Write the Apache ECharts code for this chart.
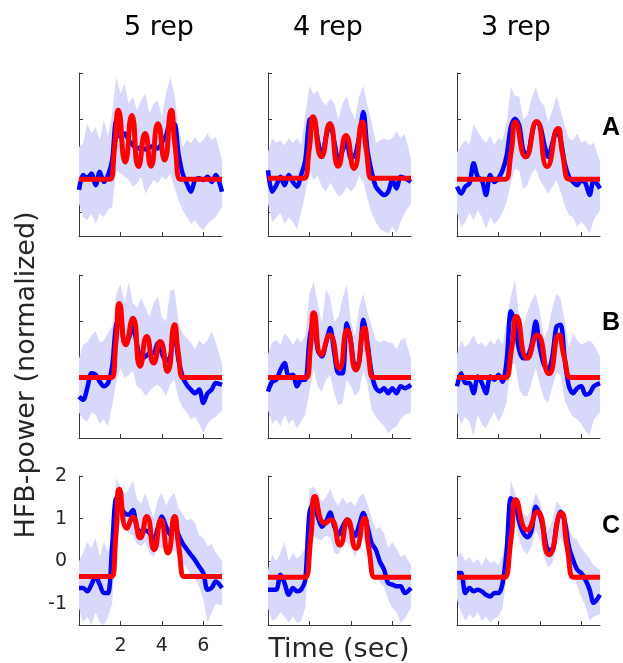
<!DOCTYPE html>
<html><head><meta charset="utf-8">
<script src="https://cdn.jsdelivr.net/npm/echarts@6/dist/echarts.min.js"></script>
<style>html,body{margin:0;padding:0;background:#fff}#c{width:623px;height:663px}</style>
</head><body><div id="c"></div>
<script>
// ---- data (time grid in seconds, values in normalized HFB power) ----
const T = [0,0.2,0.4,0.6,0.8,1,1.2,1.4,1.6,1.8,2,2.2,2.4,2.6,2.8,3,3.2,3.4,3.6,3.8,4,4.2,4.4,4.6,4.8,5,5.2,5.4,5.6,5.8,6,6.2,6.4,6.6,6.9];
const colTitles = ['5 rep','4 rep','3 rep'];
const rowLabels = ['A','B','C'];
const xTicks = [2,4,6];
const yTicks = [-1,0,1,2];

// Row A
const blueA5 = [-0.51,-0.19,-0.26,-0.16,-0.41,-0.12,-0.34,-0.19,0.13,0.99,0.63,0.7,0.56,0.45,0.38,0.4,0.36,0.4,0.43,0.38,0.5,0.66,0.91,0.91,0.27,-0.16,-0.37,-0.55,-0.3,-0.26,-0.3,-0.23,-0.34,-0.19,-0.55];
const upA5 = [0.41,0.49,0.91,0.7,0.84,0.56,0.99,0.63,1.13,1.91,1.56,1.77,1.34,1.49,1.2,1.41,1.56,1.13,1.34,1.41,1.06,1.56,1.91,1.56,0.84,0.41,0.56,0.49,0.63,0.49,0.56,0.7,0.56,0.63,0.13];
const loA5 = [-0.8,-1.09,-1.16,-1.01,-1.24,-1.01,-1.09,-0.94,-0.87,-0.09,-0.16,-0.23,-0.3,-0.44,-0.37,-0.23,-0.59,-0.44,-0.3,-0.37,-0.23,-0.3,-0.16,-0.44,-0.73,-0.94,-1.09,-1.24,-1.16,-1.3,-1.37,-1.24,-1.16,-1.09,-0.87];
const redA5 = [[0,-0.28],[1.4,-0.28],[1.5,-0.28],[1.73,0.46],[1.9,1.2],[2.23,0.09],[2.55,1.09],[2.87,-0.01],[3.19,0.7],[3.47,0.0],[3.81,0.91],[4.13,0.13],[4.45,1.2],[4.63,0.46],[4.89,-0.28],[4.99,-0.28],[6.9,-0.28]];

const blueA4 = [-0.09,-0.55,-0.41,-0.23,-0.41,-0.19,-0.34,-0.44,-0.19,0.13,0.99,1.02,0.56,0.2,0.63,0.91,0.52,0.13,0.34,0.52,0.16,0.24,0.63,1.16,0.34,-0.12,-0.44,-0.55,-0.62,-0.55,-0.3,-0.48,-0.23,-0.26,-0.34];
const upA4 = [0.3,0.6,0.5,0.55,0.45,0.6,0.5,0.6,0.45,1.1,1.72,1.55,1.62,1.4,1.3,1.45,1.35,1.0,1.35,1.5,1.2,1.0,1.5,1.72,1.3,0.95,0.5,0.55,0.6,0.55,0.6,0.75,0.6,0.7,0.15];
const loA4 = [-0.8,-1.2,-1.1,-1.0,-1.25,-1.1,-1.2,-1.35,-1.0,-0.6,-0.1,-0.3,-0.2,-0.45,-0.55,-0.35,-0.5,-0.65,-0.6,-0.45,-0.55,-0.45,-0.2,-0.35,-0.7,-1.0,-1.2,-1.35,-1.4,-1.45,-1.3,-1.45,-1.2,-1.0,-0.8];
const redA4 = [[0,-0.26],[1.65,-0.26],[1.75,-0.26],[2.0,0.4],[2.18,1.06],[2.58,0.2],[2.98,0.91],[3.39,0.0],[3.76,0.66],[4.15,-0.05],[4.55,0.95],[4.74,0.35],[5.0,-0.26],[5.1,-0.26],[6.9,-0.26]];

const blueA3 = [-0.44,-0.59,-0.44,-0.37,0.06,-0.23,-0.3,-0.62,-0.19,-0.34,-0.26,-0.09,0.24,0.84,1.02,0.88,0.34,0.24,0.66,0.95,0.88,0.49,0.2,0.49,0.77,0.56,0.06,-0.23,-0.34,-0.41,-0.3,-0.37,-0.62,-0.3,-0.48];
const upA3 = [0.3,0.45,0.55,0.45,0.9,0.75,0.6,0.5,0.65,0.45,0.6,0.55,0.95,1.7,1.5,1.5,1.0,1.1,1.45,1.7,1.4,1.3,0.95,1.2,1.5,1.2,0.85,0.6,0.55,0.7,0.5,0.55,0.45,0.5,0.1];
const loA3 = [-1.0,-1.3,-1.2,-1.0,-1.15,-0.95,-1.1,-1.35,-1.1,-1.25,-1.15,-1.0,-0.75,-0.35,-0.05,-0.1,-0.5,-0.4,-0.15,-0.05,-0.3,-0.45,-0.6,-0.45,-0.3,-0.55,-0.85,-1.05,-1.1,-1.3,-1.2,-1.3,-1.45,-1.15,-0.95];
const redA3 = [[0,-0.28],[2.24,-0.28],[2.34,-0.28],[2.62,0.33],[2.82,0.95],[3.31,0.2],[3.84,0.96],[4.35,-0.01],[4.87,0.81],[5.09,0.27],[5.4,-0.28],[5.5,-0.28],[6.9,-0.28]];

// Row B
const blueB5 = [-0.61,-0.68,-0.43,-0.11,-0.14,-0.29,-0.39,-0.32,0.04,0.95,1.05,0.54,0.64,0.89,0.5,0.21,0.25,0.32,0.32,0.54,0.32,0.14,0.25,0.79,0.18,-0.18,-0.36,-0.46,-0.54,-0.46,-0.75,-0.54,-0.46,-0.32,-0.36];
const upB5 = [0.2,0.5,0.55,0.7,0.8,0.55,0.6,0.75,0.9,1.6,1.8,1.4,1.85,1.4,1.3,1.5,1.3,1.1,1.4,1.55,1.1,1.0,1.65,1.7,1.0,0.75,0.65,0.55,0.4,0.6,0.5,0.6,0.8,0.55,0.1];
const loB5 = [-0.95,-1.1,-1.15,-0.95,-1.0,-1.2,-1.1,-1.25,-0.8,-0.3,0.0,-0.2,-0.15,-0.05,-0.4,-0.45,-0.6,-0.5,-0.4,-0.35,-0.45,-0.6,-0.35,-0.25,-0.65,-0.85,-0.95,-1.1,-1.05,-1.2,-1.4,-1.2,-1.1,-1.05,-0.9];
const redB5 = [[0,-0.2],[1.48,-0.2],[1.58,-0.2],[1.79,0.6],[1.95,1.39],[2.26,0.5],[2.6,1.07],[2.95,0.04],[3.27,0.68],[3.6,0.11],[3.92,0.57],[4.27,-0.07],[4.61,0.93],[4.78,0.37],[5.02,-0.2],[5.12,-0.2],[6.9,-0.2]];

const blueB4 = [-0.5,-0.29,-0.25,-0.04,0.11,-0.18,-0.14,-0.39,-0.25,-0.25,0.61,1.07,0.39,0.25,0.54,0.86,0.32,-0.11,-0.11,0.96,0.57,0.04,0.14,1.04,0.54,-0.11,-0.43,-0.5,-0.43,-0.54,-0.43,-0.54,-0.39,-0.43,-0.36];
const upB4 = [0.3,0.55,0.6,0.5,0.75,0.65,0.5,0.65,0.55,0.7,1.6,1.85,1.4,0.95,1.7,1.5,1.0,1.1,1.5,1.8,1.0,0.7,1.3,1.6,1.2,0.9,0.6,0.55,0.6,0.55,0.55,0.4,0.6,0.65,0.2];
const loB4 = [-0.9,-1.2,-1.1,-1.25,-1.0,-1.2,-1.1,-1.3,-1.15,-1.0,-0.5,0.0,-0.4,-0.5,-0.25,-0.15,-0.55,-0.8,-0.75,-0.25,-0.4,-0.6,-0.5,-0.05,-0.35,-0.9,-1.05,-1.15,-1.25,-1.4,-1.3,-1.25,-1.1,-1.0,-0.95];
const redB4 = [[0,-0.2],[1.75,-0.2],[1.85,-0.2],[2.06,0.5],[2.21,1.19],[2.58,0.29],[2.98,0.71],[3.44,0.0],[3.82,0.82],[4.24,-0.04],[4.65,0.86],[4.83,0.33],[5.08,-0.2],[5.18,-0.2],[6.9,-0.2]];

const blueB3 = [-0.39,-0.11,-0.32,-0.32,-0.54,-0.18,-0.32,-0.54,-0.18,-0.25,-0.14,-0.29,0.18,1.22,0.93,0.39,0.21,0.25,0.5,1.0,0.43,0.07,-0.04,0.25,0.89,0.93,0.18,-0.39,-0.54,-0.43,-0.39,-0.57,-0.54,-0.39,-0.32];
const upB3 = [0.3,0.6,0.45,0.55,0.7,0.5,0.55,0.45,0.6,0.5,0.65,0.5,1.0,1.55,1.9,1.1,0.9,1.2,1.45,1.6,1.2,0.65,0.85,1.3,1.6,1.5,1.0,0.45,0.75,0.6,0.5,0.55,0.6,0.5,0.25];
const loB3 = [-0.95,-1.2,-1.05,-1.15,-1.45,-1.0,-1.2,-1.3,-1.1,-0.95,-1.15,-1.0,-0.7,0.05,0.1,-0.45,-0.6,-0.6,-0.3,0.0,-0.35,-0.65,-0.75,-0.4,-0.1,-0.15,-0.7,-0.9,-1.05,-1.1,-1.2,-1.35,-1.45,-1.1,-0.95];
const redB3 = [[0,-0.2],[2.24,-0.2],[2.34,-0.2],[2.65,0.46],[2.87,1.11],[3.39,0.21],[3.87,0.71],[4.44,-0.12],[4.92,0.71],[5.16,0.26],[5.48,-0.2],[5.58,-0.2],[6.9,-0.2]];

// Row C
const blueC5 = [-0.63,-0.63,-0.71,-0.55,-0.36,-0.55,-0.75,-0.75,0.34,1.48,1.28,1.13,1.09,1.2,0.77,0.7,0.72,0.66,0.5,0.77,1.05,0.81,0.62,0.85,0.62,0.42,0.28,0.15,0.02,-0.13,-0.28,-0.67,-0.63,-0.48,-0.63];
const upC5 = [0.0,0.2,0.45,0.3,0.55,0.1,0.45,0.2,0.7,1.95,1.75,1.55,1.7,1.9,1.45,1.35,1.6,1.3,1.0,1.45,1.6,1.3,1.5,1.6,1.25,1.1,0.95,1.0,0.9,0.6,0.55,0.35,0.4,0.2,0.0];
const loC5 = [-1.1,-1.45,-1.3,-1.5,-1.2,-1.45,-1.5,-1.3,-1.0,0.6,0.95,0.75,0.65,0.6,0.4,0.35,0.45,0.2,0.1,0.35,0.3,0.25,0.2,0.25,0.1,-0.05,-0.15,-0.35,-0.4,-0.6,-0.9,-1.45,-1.2,-1.0,-1.05];
const redC5 = [[0,-0.36],[1.48,-0.36],[1.58,-0.36],[1.79,0.67],[1.95,1.69],[2.31,0.77],[2.6,1.03],[2.95,0.55],[3.27,1.05],[3.63,0.27],[3.95,0.97],[4.29,0.19],[4.61,1.05],[4.81,0.35],[5.08,-0.36],[5.18,-0.36],[6.9,-0.36]];

const blueC4 = [-0.67,-0.67,-0.67,-0.32,-0.52,-0.79,-0.63,-0.71,-0.67,-0.44,1.13,1.36,1.05,0.81,0.93,1.14,0.81,0.62,0.81,0.97,0.77,0.59,0.85,1.13,0.81,0.42,0.27,-0.01,-0.2,-0.52,-0.55,-0.59,-0.59,-0.75,-0.63];
const upC4 = [-0.2,0.15,0.0,0.2,0.45,0.0,0.2,0.05,0.15,0.3,1.7,1.75,1.6,1.4,1.5,1.7,1.45,1.3,1.5,1.35,1.4,1.3,1.5,1.6,1.35,1.0,0.75,0.8,0.65,0.3,0.45,0.3,0.1,0.15,-0.1];
const loC4 = [-1.1,-1.4,-1.35,-1.2,-1.3,-1.45,-1.3,-1.45,-1.4,-1.1,0.35,0.6,0.5,0.5,0.6,0.55,0.2,0.15,0.4,0.45,0.35,0.1,0.4,0.55,0.15,-0.1,-0.3,-0.5,-0.6,-0.9,-1.1,-1.2,-1.45,-1.35,-1.1];
const redC4 = [[0,-0.38],[1.7,-0.38],[1.8,-0.38],[2.07,0.57],[2.27,1.52],[2.74,0.89],[3.03,0.97],[3.47,0.38],[3.84,0.97],[4.24,0.3],[4.65,1.01],[4.86,0.32],[5.16,-0.38],[5.26,-0.38],[6.9,-0.38]];

const blueC3 = [-0.28,-0.28,-0.75,-0.63,-0.71,-0.67,-0.71,-0.79,-0.83,-0.75,-0.75,-0.52,0.27,1.48,1.36,0.93,0.66,0.56,0.73,1.28,1.09,0.66,0.27,0.27,0.85,1.16,0.93,0.34,0.03,-0.2,-0.28,-0.44,-0.67,-0.98,-0.79];
const upC3 = [0.1,0.2,0.0,0.1,-0.05,0.05,-0.1,0.1,-0.05,0.0,-0.1,0.15,0.65,1.9,1.6,1.3,1.1,1.05,1.25,1.6,1.4,1.0,0.7,0.95,1.4,1.3,1.0,0.8,0.55,0.5,0.3,0.2,0.05,-0.1,-0.2];
const loC3 = [-0.9,-1.2,-1.4,-1.25,-1.35,-1.2,-1.4,-1.3,-1.45,-1.35,-1.3,-1.1,-0.3,0.9,0.95,0.5,0.25,0.15,0.35,0.75,0.5,0.1,-0.15,-0.05,0.35,0.55,0.3,-0.05,-0.3,-0.6,-0.85,-1.05,-1.4,-1.3,-1.25];
const redC3 = [[0,-0.38],[2.19,-0.38],[2.29,-0.38],[2.61,0.53],[2.84,1.44],[3.39,0.73],[3.87,1.16],[4.44,0.15],[5.03,1.13],[5.3,0.38],[5.62,-0.38],[5.72,-0.38],[6.9,-0.38]];

// ---- build chart ----
const panels = [
  {blue:blueA5, up:upA5, lo:loA5, red:redA5},
  {blue:blueA4, up:upA4, lo:loA4, red:redA4},
  {blue:blueA3, up:upA3, lo:loA3, red:redA3},
  {blue:blueB5, up:upB5, lo:loB5, red:redB5},
  {blue:blueB4, up:upB4, lo:loB4, red:redB4},
  {blue:blueB3, up:upB3, lo:loB3, red:redB3},
  {blue:blueC5, up:upC5, lo:loC5, red:redC5},
  {blue:blueC4, up:upC4, lo:loC4, red:redC4},
  {blue:blueC3, up:upC3, lo:loC3, red:redC3}
];
const colLeft = [79, 268, 457], colW = 143;
const rowTop = [73, 275, 476], rowH = [163, 163, 149];
const AX = '#3a3a3a', TXT = '#262626', BAND = '#d8d8fb';
const FONT = 'DejaVu Sans';

const grid = [], xAxis = [], yAxis = [], series = [];
panels.forEach((p, i) => {
  const r = Math.floor(i / 3), c = i % 3;
  const labeled = (i === 6);
  grid.push({left: colLeft[c], top: rowTop[r], width: colW, height: rowH[r], containLabel: false});
  xAxis.push({
    gridIndex: i, type: 'value', min: 0, max: 6.9,
    axisLine: {show: true, onZero: false, lineStyle: {color: AX, width: 1}},
    axisTick: {show: true, inside: true, length: 4, customValues: xTicks, lineStyle: {color: AX, width: 1}},
    axisLabel: {show: labeled, customValues: xTicks, color: TXT, fontSize: 19, fontFamily: FONT, margin: 12},
    splitLine: {show: false}
  });
  yAxis.push({
    gridIndex: i, type: 'value', min: -1.5, max: 2,
    axisLine: {show: true, onZero: false, lineStyle: {color: AX, width: 1}},
    axisTick: {show: true, inside: true, length: 4, customValues: yTicks, lineStyle: {color: AX, width: 1}},
    axisLabel: {show: labeled, customValues: yTicks, color: TXT, fontSize: 19, fontFamily: FONT, margin: 12},
    splitLine: {show: false}
  });
  series.push({
    type: 'custom', xAxisIndex: i, yAxisIndex: i, data: [[0, 0]], z: 1, silent: true,
    renderItem: (params, api) => {
      const pts = [];
      for (let k = 0; k < T.length; k++) pts.push(api.coord([T[k], p.up[k]]));
      for (let k = T.length - 1; k >= 0; k--) pts.push(api.coord([T[k], p.lo[k]]));
      return {type: 'polygon', shape: {points: pts}, style: {fill: BAND}};
    }
  });
  series.push({
    type: 'line', xAxisIndex: i, yAxisIndex: i, z: 2, symbol: 'none', smooth: 0.3, silent: true,
    data: T.map((t, k) => [t, p.blue[k]]),
    lineStyle: {color: '#0000ff', width: 4.5}
  });
  series.push({
    type: 'line', xAxisIndex: i, yAxisIndex: i, z: 3, symbol: 'none', smooth: 0.6, silent: true,
    data: p.red,
    lineStyle: {color: '#ff0000', width: 5}
  });
});

const titleX = [159, 328, 516];
const rowLabelY = [128, 323, 526];
const graphic = [];
colTitles.forEach((t, c) => graphic.push({type: 'text', x: titleX[c], y: 28,
  style: {text: t, fontSize: 27, fontFamily: FONT, fill: '#000', align: 'center', verticalAlign: 'middle'}}));
rowLabels.forEach((t, r) => graphic.push({type: 'text', x: 611, y: rowLabelY[r],
  style: {text: t, fontSize: 25, fontWeight: 'bold', fontFamily: 'Liberation Sans', fill: '#000', align: 'center', verticalAlign: 'middle'}}));
graphic.push({type: 'text', x: 27, y: 375, rotation: Math.PI / 2,
  style: {text: 'HFB-power (normalized)', fontSize: 27, fontFamily: FONT, fill: TXT, align: 'center', verticalAlign: 'middle'}});
graphic.push({type: 'text', x: 339, y: 650,
  style: {text: 'Time (sec)', fontSize: 27, fontFamily: FONT, fill: TXT, align: 'center', verticalAlign: 'middle'}});

const chart = echarts.init(document.getElementById('c'), null, {renderer: 'canvas'});
chart.setOption({animation: false, backgroundColor: '#fff', grid, xAxis, yAxis, series, graphic});
</script></body></html>
